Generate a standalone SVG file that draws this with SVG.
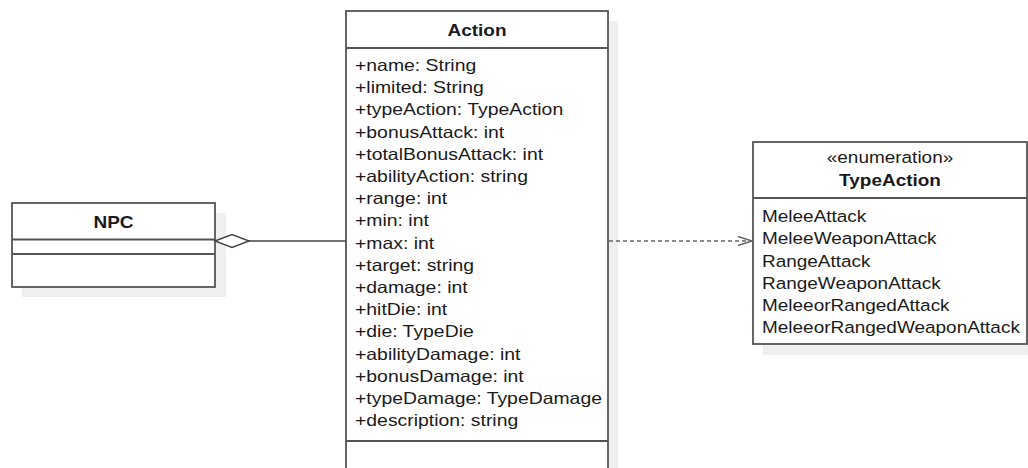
<svg xmlns="http://www.w3.org/2000/svg" width="1028" height="468" viewBox="0 0 1028 468">
<style>
.shadow{fill:#efefef;stroke:none}
.box{fill:#ffffff;stroke:#555555;stroke-width:1.8}
.div{stroke:#555555;stroke-width:1.8;fill:none}
.t{font-family:"Liberation Sans",Arial,sans-serif;font-size:16.5px;fill:#1a1a1a}
.b{font-weight:bold}
.c{text-anchor:middle}
.assoc{stroke:#444444;stroke-width:1.5;fill:none}
.dep{stroke:#666666;stroke-width:1.5;fill:none;stroke-dasharray:4 3}
</style>
<defs>
<marker id="diamond" markerUnits="userSpaceOnUse" markerWidth="40" markerHeight="20" refX="0" refY="7" orient="auto" viewBox="-2 0 40 14">
<path d="M0,7 L17,0.5 L34,7 L17,13.5 Z" fill="#ffffff" stroke="#444444" stroke-width="1.5"/>
</marker>
<marker id="open" markerUnits="userSpaceOnUse" markerWidth="20" markerHeight="14" refX="16" refY="7" orient="auto" viewBox="0 0 20 14">
<path d="M2,2.5 L16,7 L2,11.5" fill="none" stroke="#666666" stroke-width="1.5"/>
</marker>
</defs>

<g id="NPC">
<rect class="shadow" x="22" y="213" width="204" height="84"/>
<rect class="box" x="12" y="203" width="203" height="84"/>
<line class="div" x1="12" y1="239.5" x2="215" y2="239.5"/>
<line class="div" x1="12" y1="254" x2="215" y2="254"/>
<text class="t b c" transform="translate(113.5,228) scale(1.15,1)">NPC</text>
</g>

<g id="Action">
<rect class="shadow" x="356" y="21" width="262" height="460"/>
<rect class="box" x="346" y="11" width="262" height="470"/>
<line class="div" x1="346" y1="48" x2="608" y2="48"/>
<line class="div" x1="346" y1="441" x2="608" y2="441"/>
<text class="t b c" transform="translate(477,36) scale(1.15,1)">Action</text>
<g transform="translate(355,0) scale(1.175,1)">
<text class="t" x="0" y="71">+name: String</text>
<text class="t" x="0" y="93.2">+limited: String</text>
<text class="t" x="0" y="115.4">+typeAction: TypeAction</text>
<text class="t" x="0" y="137.6">+bonusAttack: int</text>
<text class="t" x="0" y="159.8">+totalBonusAttack: int</text>
<text class="t" x="0" y="182">+abilityAction: string</text>
<text class="t" x="0" y="204.2">+range: int</text>
<text class="t" x="0" y="226.4">+min: int</text>
<text class="t" x="0" y="248.6">+max: int</text>
<text class="t" x="0" y="270.8">+target: string</text>
<text class="t" x="0" y="293">+damage: int</text>
<text class="t" x="0" y="315.2">+hitDie: int</text>
<text class="t" x="0" y="337.4">+die: TypeDie</text>
<text class="t" x="0" y="359.6">+abilityDamage: int</text>
<text class="t" x="0" y="381.8">+bonusDamage: int</text>
<text class="t" x="0" y="404">+typeDamage: TypeDamage</text>
<text class="t" x="0" y="426.2">+description: string</text>
</g>
</g>

<g id="TypeAction">
<rect class="shadow" x="763" y="152" width="270" height="203"/>
<rect class="box" x="753" y="142" width="274" height="202"/>
<line class="div" x1="753" y1="198" x2="1027" y2="198"/>
<text class="t c" transform="translate(890,163) scale(1.15,1)">«enumeration»</text>
<text class="t b c" transform="translate(890,186) scale(1.15,1)">TypeAction</text>
<g transform="translate(762,0) scale(1.15,1)">
<text class="t" x="0" y="222">MeleeAttack</text>
<text class="t" x="0" y="244.3">MeleeWeaponAttack</text>
<text class="t" x="0" y="266.6">RangeAttack</text>
<text class="t" x="0" y="288.9">RangeWeaponAttack</text>
<text class="t" x="0" y="311.2">MeleeorRangedAttack</text>
<text class="t" x="0" y="333.5">MeleeorRangedWeaponAttack</text>
</g>
</g>

<g id="connectors">
<path class="assoc" d="M215,241 L346,241" marker-start="url(#diamond)"/>
<path class="dep" d="M609,241 L752,241" marker-end="url(#open)"/>
</g>
</svg>
